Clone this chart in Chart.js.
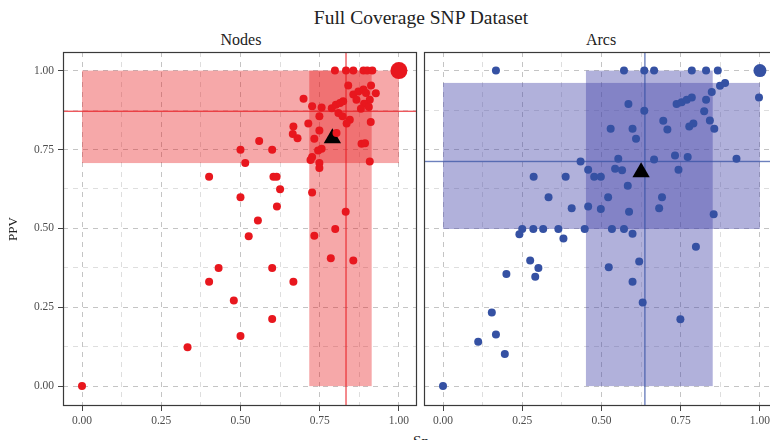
<!DOCTYPE html>
<html>
<head>
<meta charset="utf-8">
<script src="https://cdn.jsdelivr.net/npm/chart.js@4.4.1/dist/chart.umd.min.js"></script>
<style>
  html, body { margin: 0; padding: 0; background: #fff; overflow: hidden; }
  #wrap { position: relative; width: 770px; height: 440px; overflow: hidden; }
  canvas { position: absolute; top: 0; }
  .lbl { position: absolute; font-family: "Liberation Serif", serif; color: #222; white-space: nowrap; transform: translateX(-50%); }
</style>
</head>
<body>
<div id="wrap">
  <div class="lbl" style="left:421px; top:7px; font-size:19.5px;">Full Coverage SNP Dataset</div>
  <div class="lbl" style="left:241px; top:31px; font-size:16px;">Nodes</div>
  <div class="lbl" style="left:601px; top:31px; font-size:16px;">Arcs</div>
  <div class="lbl" style="left:421px; top:433px; font-size:15px;">Sn</div>
  <canvas id="nodesChart" width="420" height="440" style="left:0"></canvas>
  <canvas id="arcsChart" width="370" height="440" style="left:420px"></canvas>
</div>
<script>
// ---- data ----
var majorTicks = [0, 0.25, 0.5, 0.75, 1];
var tickLabels = ['0.00', '0.25', '0.50', '0.75', '1.00'];
var minorTicks = [0.125, 0.375, 0.625, 0.875];

var nodesSn = [0.798,0.833,0.856,0.888,0.900,0.916,0.840,0.912,0.856,0.872,0.888,0.896,0.927,0.866,0.908,0.890,0.880,0.905,
  0.699,0.726,0.756,0.788,0.801,0.814,0.824,0.809,0.822,0.749,0.845,0.835,0.911,0.714,0.667,0.665,0.680,0.749,0.733,0.803,
  0.882,0.893,0.756,0.745,0.726,0.721,0.749,0.749,0.908,0.500,0.559,0.600,0.515,0.401,0.604,0.614,0.625,0.726,0.500,0.615,
  0.555,0.832,0.799,0.526,0.733,0.785,0.856,0.431,0.600,0.401,0.667,0.479,0.600,0.500,0.333,0.000];
var nodesPpv = [1,1,1,1,1,1,0.953,0.953,0.924,0.934,0.940,0.929,0.928,0.908,0.908,0.895,0.879,0.885,
  0.911,0.887,0.883,0.881,0.892,0.897,0.903,0.866,0.855,0.855,0.844,0.832,0.837,0.832,0.823,0.799,0.786,0.810,0.784,0.802,
  0.768,0.770,0.752,0.747,0.726,0.717,0.707,0.691,0.712,0.749,0.777,0.749,0.707,0.664,0.664,0.664,0.624,0.614,0.599,0.569,
  0.525,0.553,0.498,0.475,0.477,0.405,0.398,0.374,0.374,0.331,0.331,0.271,0.213,0.159,0.123,0.000];

var arcsSn = [0.167,0.571,0.635,0.666,0.785,0.830,0.867,0.874,0.890,0.848,0.997,0.737,0.753,0.769,0.785,0.830,0.585,0.635,
  0.824,0.842,0.695,0.708,0.777,0.790,0.856,0.529,0.598,0.609,0.926,0.434,0.553,0.666,0.732,0.772,0.458,0.543,0.565,0.743,
  0.286,0.387,0.477,0.498,0.583,0.333,0.521,0.691,0.406,0.458,0.498,0.587,0.682,0.854,0.250,0.285,0.316,0.364,0.447,0.533,
  0.571,0.241,0.598,0.380,0.798,0.275,0.301,0.291,0.200,0.523,0.619,0.598,0.630,0.749,0.154,0.167,0.111,0.195,0.000];
var arcsPpv = [1,1,1,1,1,1,1,0.952,0.961,0.932,0.915,0.894,0.900,0.908,0.915,0.908,0.894,0.873,
  0.871,0.842,0.841,0.813,0.823,0.832,0.816,0.816,0.816,0.784,0.721,0.712,0.721,0.718,0.731,0.726,0.686,0.689,0.684,0.686,
  0.664,0.664,0.664,0.664,0.635,0.599,0.599,0.599,0.564,0.569,0.561,0.553,0.564,0.545,0.498,0.498,0.498,0.498,0.498,0.498,
  0.498,0.481,0.483,0.468,0.442,0.398,0.374,0.347,0.355,0.377,0.395,0.331,0.265,0.212,0.233,0.164,0.141,0.102,0.000];

// ideal point and mean
var nodesBest = [1, 1];
var nodesMean = [0.790, 0.786];
var arcsBest = [1, 1];
var arcsMean = [0.625, 0.678];

// spread bands [snLow, snHigh, ppvLow, ppvHigh] and median lines [sn, ppv]
var nodesBands = [[0, 1, 0.707, 1.0], [0.717, 0.914, 0, 1.0]];
var nodesMedian = [0.833, 0.871];
var arcsBands = [[0, 1, 0.498, 0.961], [0.451, 0.851, 0, 1.0]];
var arcsMedian = [0.637, 0.712];

function toXY(xs, ys) {
  return xs.map(function (x, i) { return { x: x, y: ys[i] }; });
}

var SERIF = '"Liberation Serif", "Times New Roman", serif';

// bands, median lines and the panel frame
function panelPlugin(bands, median, bandColor, medianColor) {
  return {
    id: 'panel',
    beforeDatasetsDraw: function (chart) {
      var ctx = chart.ctx, xs = chart.scales.x, ys = chart.scales.y, a = chart.chartArea;
      ctx.save();
      ctx.fillStyle = bandColor;
      bands.forEach(function (b) {
        var x0 = xs.getPixelForValue(b[0]), x1 = xs.getPixelForValue(b[1]);
        var y0 = ys.getPixelForValue(b[3]), y1 = ys.getPixelForValue(b[2]);
        ctx.fillRect(x0, y0, x1 - x0, y1 - y0);
      });
      var vx = xs.getPixelForValue(median[0]);
      var hy = ys.getPixelForValue(median[1]);
      ctx.fillStyle = medianColor;
      ctx.fillRect(vx - 0.7, a.top, 1.4, a.bottom - a.top);
      ctx.fillRect(a.left, hy - 0.7, a.right - a.left, 1.4);
      ctx.restore();
    },
    afterDraw: function (chart) {
      var a = chart.chartArea, ctx = chart.ctx;
      ctx.save();
      ctx.setLineDash([]);
      ctx.strokeStyle = '#3a3a3a';
      ctx.lineWidth = 1.2;
      ctx.strokeRect(a.left + 0.5, a.top + 0.5, a.right - a.left - 1, a.bottom - a.top - 1);
      ctx.restore();
    }
  };
}

function gridColor(ctx) {
  if (!ctx.tick) return 'rgba(0,0,0,0)';
  return majorTicks.indexOf(ctx.tick.value) >= 0 ? '#c4c4c4' : '#dedede';
}
function tickColor(ctx) {
  if (!ctx.tick) return 'rgba(0,0,0,0)';
  return majorTicks.indexOf(ctx.tick.value) >= 0 ? '#444' : 'rgba(0,0,0,0)';
}
function setTicks(axis) {
  axis.ticks = majorTicks.concat(minorTicks).sort().map(function (v) { return { value: v }; });
}
function labelFor(v) {
  var i = majorTicks.indexOf(v);
  return i >= 0 ? tickLabels[i] : '';
}

function makePanel(id, pts, best, mean, color, bandColor, medianColor, bands, median, showY, padLeft, padRight, xMax) {
  return new Chart(id, {
    type: 'scatter',
    data: {
      datasets: [{
        data: pts,
        pointRadius: 4,
        pointHoverRadius: 4,
        pointBackgroundColor: color,
        pointBorderWidth: 0
      }, {
        data: [{ x: best[0], y: best[1] }],
        pointRadius: showY ? 8.5 : 6.5,
        pointHoverRadius: showY ? 8.5 : 6.5,
        pointBackgroundColor: color,
        pointBorderWidth: 0
      }, {
        data: [{ x: mean[0], y: mean[1] }],
        pointStyle: 'triangle',
        pointRadius: 10,
        pointHoverRadius: 10,
        pointBackgroundColor: '#000',
        pointBorderColor: '#000',
        pointBorderWidth: 0
      }]
    },
    options: {
      responsive: false,
      animation: false,
      clip: false,
      layout: { autoPadding: false, padding: { top: 52, right: padRight, left: padLeft, bottom: 0 } },
      plugins: {
        legend: { display: false },
        tooltip: { enabled: false }
      },
      scales: {
        x: {
          type: 'linear',
          min: -0.06, max: xMax,
          afterBuildTicks: setTicks,
          afterFit: function (axis) { axis.height = 34; axis.paddingLeft = 0; axis.paddingRight = 0; },
          border: { display: false, dash: [5, 5] },
          grid: { color: gridColor, tickColor: tickColor, tickLength: 5, tickBorderDash: [], lineWidth: 1 },
          ticks: { callback: labelFor, autoSkip: false, maxRotation: 0, padding: 3, color: '#4d4d4d', font: { family: SERIF, size: 11.5 } }
        },
        y: {
          type: 'linear',
          min: -0.063, max: 1.059,
          afterBuildTicks: setTicks,
          afterFit: function (axis) { axis.width = showY ? 63 : 0; axis.paddingTop = 0; axis.paddingBottom = 0; },
          border: { display: false, dash: [5, 5] },
          grid: { color: gridColor, tickColor: tickColor, tickLength: 5, tickBorderDash: [], drawTicks: showY, lineWidth: 1 },
          ticks: { display: showY, callback: labelFor, autoSkip: false, padding: 4, color: '#4d4d4d', font: { family: SERIF, size: 11.5 } },
          title: { display: showY, text: 'PPV', color: '#222', padding: { top: 6, bottom: 0 }, font: { family: SERIF, size: 13 } }
        }
      }
    },
    plugins: [panelPlugin(bands, median, bandColor, medianColor)]
  });
}

var nodesChart = makePanel('nodesChart', toXY(nodesSn, nodesPpv), nodesBest, nodesMean,
  '#e8171e', 'rgba(232,25,30,0.38)', 'rgba(232,25,30,0.72)', nodesBands, nodesMedian, true, 0, 3, 1.057);

var arcsChart = makePanel('arcsChart', toXY(arcsSn, arcsPpv), arcsBest, arcsMean,
  '#3551a3', 'rgba(70,70,170,0.42)', 'rgba(53,81,163,0.72)', arcsBands, arcsMedian, false, 4, 12, 1.057);
</script>
</body>
</html>
